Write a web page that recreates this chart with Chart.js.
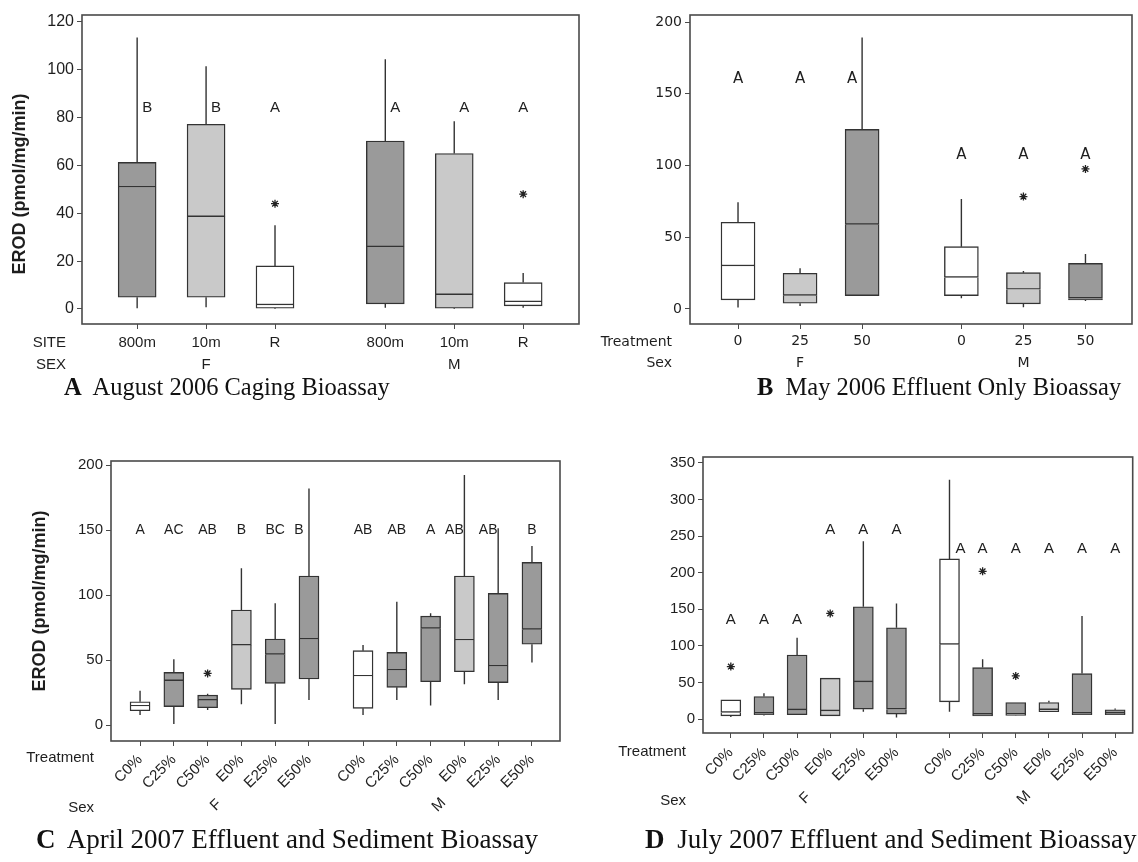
<!DOCTYPE html>
<html>
<head>
<meta charset="utf-8">
<script src="https://cdn.jsdelivr.net/npm/chart.js@4.4.1/dist/chart.umd.min.js"></script>
<style>
  body { margin: 0; background: #fff; }
  #wrap { position: relative; width: 1138px; height: 862px; overflow: hidden; background: #fff; }
  canvas { position: absolute; }
  .cap { position: absolute; font-family: "Liberation Serif", "Times New Roman", serif; line-height: 30px; color: #111; white-space: nowrap; }
  .cap b { margin-right: 6px; }
  .top { font-size: 24.5px; }
  .bottom { font-size: 27px; }
</style>
</head>
<body>
<div id="wrap">
  <canvas id="chartA" width="600" height="400" style="left:0;top:0"></canvas>
  <canvas id="chartB" width="538" height="400" style="left:600px;top:0"></canvas>
  <canvas id="chartC" width="570" height="422" style="left:0;top:440px"></canvas>
  <canvas id="chartD" width="568" height="422" style="left:570px;top:440px"></canvas>
  <div class="cap top" style="left:64px;top:372px"><b>A</b> August 2006 Caging Bioassay</div>
  <div class="cap top" style="left:757px;top:372px"><b>B</b> May 2006 Effluent Only Bioassay</div>
  <div class="cap bottom" style="left:36px;top:824px"><b>C</b> April 2007 Effluent and Sediment Bioassay</div>
  <div class="cap bottom" style="left:645px;top:824px"><b>D</b> July 2007 Effluent and Sediment Bioassay</div>
</div>
<script>
// A: August 2006 caging bioassay
const aSites = ["800m", "10m", "R", "800m", "10m", "R"];
const aSexes = ["F", "M"];
const aMin = [0.3, 0.7, 0, 0.5, 0, 0.5];
const aQ1 = [4.9, 4.9, 0.3, 2.1, 0.3, 1.3];
const aMed = [51, 38.6, 1.7, 26, 6, 3];
const aQ3 = [61.3, 77.2, 18, 70.2, 65, 11];
const aMax = [113.5, 101.5, 35, 104.4, 78.5, 15];
const aOutliers = [[], [], [44], [], [], [48]];
const aLetters = ["B", "B", "A", "A", "A", "A"];
const aLetterLevel = [84, 84, 84, 84, 84, 84];
const aYTicks = [0, 20, 40, 60, 80, 100, 120];

// B: May 2006 effluent only
const bTreatments = ["0", "25", "50", "0", "25", "50"];
const bSexes = ["F", "M"];
const bMin = [1, 2, 9.3, 7.5, 1.2, 5.6];
const bQ1 = [6.3, 4, 9.3, 9.3, 3.5, 6.3];
const bMed = [30, 9.5, 59, 22, 13.7, 7.5];
const bQ3 = [60.4, 24.9, 125.2, 43.4, 25.3, 31.8];
const bMax = [74.3, 28.4, 189.3, 76.7, 26.5, 38.3];
const bOutliers = [[], [], [], [], [78.3], [97.6]];
const bLetters = ["A", "A", "A", "A", "A", "A"];
const bLetterLevel = [160, 160, 160, 107, 107, 107];
const bYTicks = [0, 50, 100, 150, 200];

// C: April 2007 effluent and sediment
const cTreatments = ["C0%", "C25%", "C50%", "E0%", "E25%", "E50%", "C0%", "C25%", "C50%", "E0%", "E25%", "E50%"];
const cSexes = ["F", "M"];
const cMin = [7.7, 0.8, 11.5, 16, 0.8, 19.2, 7.7, 19.2, 15, 31.3, 19.2, 48];
const cQ1 = [11, 14.1, 13.3, 27.4, 32, 35.4, 12.8, 29, 33.3, 41, 32.6, 62.1];
const cMed = [14.6, 34.1, 19.2, 61.5, 54.4, 66.2, 37.7, 42.3, 74.4, 65.4, 45.4, 73.6];
const cQ3 = [17.9, 40.5, 23, 88.5, 66.2, 114.6, 57.2, 55.9, 83.8, 114.6, 101.3, 125.1];
const cMax = [26.4, 50.5, 24, 120.5, 93.6, 182, 61.5, 94.9, 85.9, 192.3, 151.3, 137.7];
const cOutliers = [[], [], [39.7], [], [], [], [], [], [], [], [], []];
const cLetters = ["A", "AC", "AB", "B", "BC", "B", "AB", "AB", "A", "AB", "AB", "B"];
const cLetterLevel = [150, 150, 150, 150, 150, 150, 150, 150, 150, 150, 150, 150];
const cYTicks = [0, 50, 100, 150, 200];

// D: July 2007 effluent and sediment
const dTreatments = ["C0%", "C25%", "C50%", "E0%", "E25%", "E50%", "C0%", "C25%", "C50%", "E0%", "E25%", "E50%"];
const dSexes = ["F", "M"];
const dMin = [3, 5, 5.9, 4.5, 10, 2.3, 10, 4.5, 4.5, 10, 5.9, 5.9];
const dQ1 = [4.5, 5.9, 5.9, 4.5, 13.6, 6.8, 23.6, 4.5, 5, 10, 5.9, 5.9];
const dMed = [9.1, 8.2, 12.7, 11.3, 50.9, 13.6, 102.2, 6.8, 7, 13, 8.2, 8.2];
const dQ3 = [26.3, 30.9, 87.6, 55.9, 153.5, 124.9, 218.9, 70.4, 22.7, 22.7, 62.2, 12.7];
const dMax = [26.3, 35.4, 111.3, 55.9, 243, 158, 327, 81.7, 22.7, 25, 140.8, 14.5];
const dOutliers = [[71.8], [], [], [144.4], [], [], [], [202], [59], [], [], []];
const dLetters = ["A", "A", "A", "A", "A", "A", "A", "A", "A", "A", "A", "A"];
const dLetterLevel = [135, 135, 135, 259, 259, 259, 232, 232, 232, 232, 232, 232];
const dYTicks = [0, 50, 100, 150, 200, 250, 300, 350];

const GROUP_GAP = 0.6;
const DARK = "#9a9a9a", LIGHT = "#c9c9c9", WHITE = "#ffffff";
const INK = "#1e1e1e", FRAME = "#4a4a4a", EDGE = "#333333";
const SANS = '"Liberation Sans", Arial, sans-serif';
const VERD = '"DejaVu Sans", Verdana, sans-serif';

function boxChart(id, p) {
  const half = p.labels.length / 2;
  const xs = p.labels.map((_, i) => i + 1 + (i >= half ? GROUP_GAP : 0));
  const fills = p.labels.map(l => p.fills[l] || DARK);

  const lower = xs.map((x, i) => ({ x: x, y: [p.q1[i], p.med[i]] }));
  const upper = xs.map((x, i) => ({ x: x, y: [p.med[i], p.q3[i]] }));
  const whiskers = [];
  xs.forEach((x, i) => {
    whiskers.push({ x: x, y: p.min[i] }, { x: x, y: p.q1[i] }, { x: x, y: null });
    whiskers.push({ x: x, y: p.q3[i] }, { x: x, y: p.max[i] }, { x: x, y: null });
  });
  const stars = [];
  xs.forEach((x, i) => p.outliers[i].forEach(v => stars.push({ x: x, y: v })));

  const panelText = {
    id: "panelText",
    afterDraw(chart) {
      const ctx = chart.ctx, ca = chart.chartArea;
      const sx = chart.scales.x, sy = chart.scales.y;
      ctx.save();
      ctx.strokeStyle = FRAME;
      ctx.lineWidth = 1.6;
      ctx.strokeRect(ca.left, ca.top, ca.right - ca.left, ca.bottom - ca.top);

      ctx.fillStyle = INK;
      ctx.textBaseline = "middle";
      ctx.textAlign = "center";
      ctx.font = p.letterFont;
      p.letters.forEach((t, i) => {
        const lv = p.letterLevel[i];
        // letters step aside when the whisker runs through them
        const shift = p.max[i] > lv - 8 ? p.crossShift : 0;
        ctx.fillText(t, sx.getPixelForValue(xs[i]) + shift, sy.getPixelForValue(lv));
      });

      ctx.font = p.tickFont.css;
      ctx.textAlign = "right";
      p.headers.forEach((h, k) => ctx.fillText(h, p.headX, p.headY[k]));

      ctx.textAlign = "center";
      p.sexes.forEach((s, g) => {
        const gx = sx.getPixelForValue(xs[g * half + p.groupAt] + p.groupNudge);
        ctx.save();
        ctx.translate(gx, p.groupY);
        ctx.rotate(-p.rot * Math.PI / 180);
        ctx.fillText(s, 0, 0);
        ctx.restore();
      });

      if (p.yTitle) {
        ctx.save();
        ctx.translate(p.yTitle.x, p.yTitle.y);
        ctx.rotate(-Math.PI / 2);
        ctx.font = "bold 18px " + SANS;
        ctx.fillText("EROD (pmol/mg/min)", 0, 0);
        ctx.restore();
      }
      ctx.restore();
    }
  };

  return new Chart(document.getElementById(id), {
    type: "bar",
    data: {
      datasets: [
        {
          type: "scatter", data: stars, order: 0,
          pointStyle: "star", pointRadius: 4, borderColor: "#222", borderWidth: 1.3
        },
        {
          data: upper, order: 1, grouped: false, barThickness: p.boxWidth,
          backgroundColor: fills, borderColor: EDGE, borderWidth: 1.4, borderSkipped: false
        },
        {
          data: lower, order: 2, grouped: false, barThickness: p.boxWidth,
          backgroundColor: fills, borderColor: EDGE, borderWidth: 1.4, borderSkipped: "top"
        },
        {
          type: "line", data: whiskers, order: 3,
          borderColor: EDGE, borderWidth: 1.4, pointRadius: 0, fill: false, spanGaps: false
        }
      ]
    },
    options: {
      responsive: false,
      animation: false,
      events: [],
      layout: { padding: { left: 0, top: p.padTop, right: p.padRight, bottom: 0 } },
      plugins: { legend: { display: false }, tooltip: { enabled: false } },
      scales: {
        x: {
          type: "linear", min: p.xMin, max: p.xMax, offset: false,
          grid: { drawOnChartArea: false, tickLength: 5, color: FRAME, offset: false },
          border: { display: false },
          afterBuildTicks: axis => { axis.ticks = xs.map(v => ({ value: v })); },
          afterFit: axis => { axis.height = p.xHeight; },
          ticks: {
            autoSkip: false, minRotation: p.rot, maxRotation: p.rot, padding: p.xPad,
            color: INK, font: p.tickFont,
            callback: (v, i) => p.labels[i]
          }
        },
        y: {
          min: p.yMin, max: p.yMax,
          grid: { drawOnChartArea: false, tickLength: 5, color: FRAME },
          border: { display: false },
          afterBuildTicks: axis => { axis.ticks = p.yTicks.map(v => ({ value: v })); },
          afterFit: axis => { axis.width = p.yWidth; },
          ticks: { padding: 3, color: INK, font: p.yFont }
        }
      }
    },
    plugins: [panelText]
  });
}

const arial15 = { family: SANS, size: 15, css: "15px " + SANS };

boxChart("chartA", {
  labels: aSites, sexes: aSexes, min: aMin, q1: aQ1, med: aMed, q3: aQ3, max: aMax,
  outliers: aOutliers, letters: aLetters, letterLevel: aLetterLevel, yTicks: aYTicks,
  fills: { "800m": DARK, "10m": LIGHT, "R": WHITE },
  xMin: 0.2, xMax: 7.41, yMin: -6.3, yMax: 122.9,
  padTop: 15, padRight: 21, yWidth: 82, xHeight: 76, xPad: 5, rot: 0,
  boxWidth: 38, tickFont: arial15, yFont: { family: SANS, size: 16 },
  letterFont: "15px " + SANS, crossShift: 10,
  headers: ["SITE", "SEX"], headX: 66, headY: [343, 365],
  groupAt: 1, groupNudge: 0, groupY: 365,
  yTitle: { x: 20, y: 184 }
});

boxChart("chartB", {
  labels: bTreatments, sexes: bSexes, min: bMin, q1: bQ1, med: bMed, q3: bQ3, max: bMax,
  outliers: bOutliers, letters: bLetters, letterLevel: bLetterLevel, yTicks: bYTicks,
  fills: { "0": WHITE, "25": LIGHT, "50": DARK },
  xMin: 0.226, xMax: 7.35, yMin: -10.5, yMax: 204.9,
  padTop: 15, padRight: 6, yWidth: 90, xHeight: 76, xPad: 4, rot: 0,
  boxWidth: 34, tickFont: { family: VERD, size: 14, css: "14px " + VERD },
  yFont: { family: VERD, size: 14 },
  letterFont: "15px " + VERD, crossShift: -10,
  headers: ["Treatment", "Sex"], headX: 72, headY: [342, 363],
  groupAt: 1, groupNudge: 0, groupY: 363,
  yTitle: null
});

boxChart("chartC", {
  labels: cTreatments, sexes: cSexes, min: cMin, q1: cQ1, med: cMed, q3: cQ3, max: cMax,
  outliers: cOutliers, letters: cLetters, letterLevel: cLetterLevel, yTicks: cYTicks,
  fills: { "C0%": WHITE, "E0%": LIGHT },
  xMin: 0.14, xMax: 13.43, yMin: -12.3, yMax: 203.1,
  padTop: 21, padRight: 10, yWidth: 111, xHeight: 121, xPad: 5, rot: 45,
  boxWidth: 20, tickFont: arial15, yFont: { family: SANS, size: 15 },
  letterFont: "14px " + SANS, crossShift: -10,
  headers: ["Treatment", "Sex"], headX: 94, headY: [318, 368],
  groupAt: 2, groupNudge: 0.25, groupY: 365,
  yTitle: { x: 40, y: 161 }
});

boxChart("chartD", {
  labels: dTreatments, sexes: dSexes, min: dMin, q1: dQ1, med: dMed, q3: dQ3, max: dMax,
  outliers: dOutliers, letters: dLetters, letterLevel: dLetterLevel, yTicks: dYTicks,
  fills: { "C0%": WHITE, "E0%": LIGHT },
  xMin: 0.16, xMax: 13.13, yMin: -19, yMax: 358.2,
  padTop: 17, padRight: 2, yWidth: 133, xHeight: 129, xPad: 6, rot: 45,
  boxWidth: 20, tickFont: arial15, yFont: { family: SANS, size: 15 },
  letterFont: "15px " + SANS, crossShift: 11,
  headers: ["Treatment", "Sex"], headX: 116, headY: [312, 361],
  groupAt: 2, groupNudge: 0.25, groupY: 358,
  yTitle: null
});
</script>
</body>
</html>
